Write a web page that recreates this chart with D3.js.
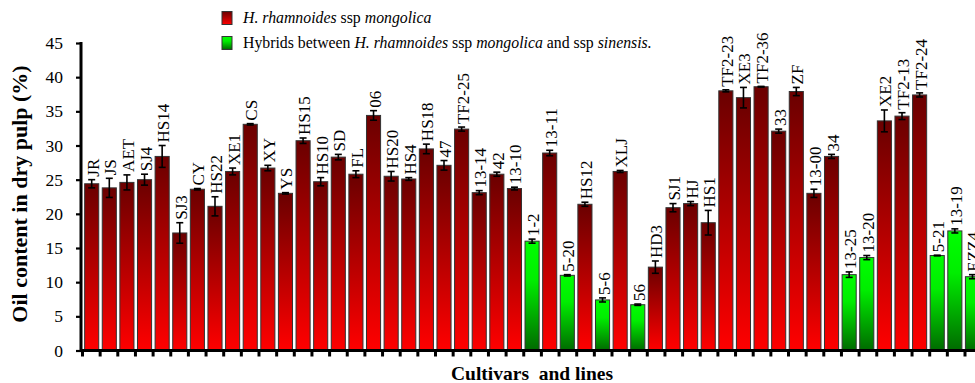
<!DOCTYPE html>
<html><head><meta charset="utf-8">
<script src="https://cdn.jsdelivr.net/npm/d3@7"></script>
<style>
html,body{margin:0;padding:0;background:#fff;}
svg{display:block;font-family:"Liberation Serif","Times New Roman",serif;}
</style></head>
<body>
<svg id="chart" width="975" height="383"></svg>
<script>
const categories = ["JR","JS","AET","SJ4","HS14","SJ3","CY","HS22","XE1","CS","XY","YS","HS15","HS10","SD","FL","06","HS20","HS4","HS18","47","TF2-25","13-14","42","13-10","1-2","13-11","5-20","HS12","5-6","XLJ","56","HD3","SJ1","HJ","HS1","TF2-23","XE3","TF2-36","33","ZF","13-00","34","13-25","13-20","XE2","TF2-13","TF2-24","5-21","13-19","EZZ4"];
const oilValues = [24.4,23.8,24.6,25.0,28.4,17.2,23.6,21.1,26.2,33.1,26.7,23.0,30.7,24.7,28.3,25.8,34.4,25.5,25.1,29.5,27.1,32.4,23.1,25.8,23.7,16.0,28.9,11.0,21.4,7.4,26.2,6.7,12.2,20.9,21.5,18.7,38.0,37.0,38.6,32.1,37.9,23.0,28.4,11.1,13.6,33.6,34.3,37.4,13.9,17.5,10.8];
const oilErrors = [0.6,1.4,1.1,0.8,1.6,1.5,0.1,1.4,0.5,0.1,0.4,0.1,0.4,0.6,0.4,0.5,0.7,0.7,0.2,0.7,0.7,0.3,0.3,0.3,0.2,0.3,0.4,0.1,0.3,0.3,0.15,0.1,0.9,0.6,0.3,1.8,0.15,1.5,0.05,0.3,0.6,0.6,0.3,0.4,0.3,1.6,0.5,0.3,0.05,0.3,0.3];
const groups = ["m","m","m","m","m","m","m","m","m","m","m","m","m","m","m","m","m","m","m","m","m","m","m","m","m","h","m","h","m","h","m","h","m","m","m","m","m","m","m","m","m","m","m","h","h","m","m","m","h","h","h"];
const yTicks = [0,5,10,15,20,25,30,35,40,45];
const legendItems = [
  {key:"m", parts:[["H. rhamnoides",true],[" ssp ",false],["mongolica",true]]},
  {key:"h", parts:[["Hybrids between ",false],["H. rhamnoides",true],[" ssp ",false],["mongolica",true],[" and ssp ",false],["sinensis.",true]]}
];

const data = categories.map((c,i)=>({name:c, v:oilValues[i], e:oilErrors[i], g:groups[i], i}));

const svg = d3.select("#chart");
const defs = svg.append("defs");
const gr = defs.append("linearGradient").attr("id","gradM").attr("x1",0).attr("y1",0).attr("x2",0).attr("y2",1);
gr.append("stop").attr("offset","0%").attr("stop-color","#6a0000");
gr.append("stop").attr("offset","100%").attr("stop-color","#ff0000");
const gg = defs.append("linearGradient").attr("id","gradH").attr("x1",0).attr("y1",0).attr("x2",0).attr("y2",1);
gg.append("stop").attr("offset","0%").attr("stop-color","#00ff00");
gg.append("stop").attr("offset","35%").attr("stop-color","#00ee00");
gg.append("stop").attr("offset","100%").attr("stop-color","#006a00");
const fillOf = g => g==="m" ? "url(#gradM)" : "url(#gradH)";

const step = 17.65, x0 = 82;
const x = d3.scaleBand().domain(categories).range([x0, x0+categories.length*step]).paddingInner(0.2).paddingOuter(0.15);
const xb = d3.scaleLinear().domain([0,categories.length]).range([x0, x0+categories.length*step]);
const y = d3.scaleLinear().domain([0,45]).range([350.5,43]);

// bars
svg.append("g").selectAll("rect").data(data).join("rect")
  .attr("x", d=>x(d.name)).attr("width", x.bandwidth())
  .attr("y", d=>y(d.v)).attr("height", d=>y(0)-y(d.v))
  .attr("fill", d=>fillOf(d.g)).attr("stroke","#333").attr("stroke-width",1);

// error bars
const eg = svg.append("g").attr("stroke","#000").attr("stroke-width",1.6);
data.forEach(d=>{
  const cx = x(d.name)+x.bandwidth()/2;
  eg.append("line").attr("x1",cx).attr("x2",cx).attr("y1",y(d.v+d.e)).attr("y2",y(d.v-d.e));
  eg.append("line").attr("x1",cx-3.5).attr("x2",cx+3.5).attr("y1",y(d.v+d.e)).attr("y2",y(d.v+d.e));
  eg.append("line").attr("x1",cx-3.5).attr("x2",cx+3.5).attr("y1",y(d.v-d.e)).attr("y2",y(d.v-d.e));
});

// bar labels
svg.append("g").selectAll("text").data(data).join("text")
  .attr("transform", d=>`translate(${x(d.name)+x.bandwidth()/2+7},${y(d.v+d.e)-3}) rotate(-90)`)
  .attr("font-size",17).attr("fill","#000").attr("text-anchor","start")
  .text(d=>d.name);

// y axis
const yAxis = svg.append("g").attr("transform","translate(81,0)")
  .call(d3.axisLeft(y).tickValues(yTicks).tickSize(5).tickPadding(13).tickFormat(d3.format("d")));
yAxis.select(".domain").attr("stroke","#000").attr("stroke-width",3).attr("d",`M0,${y(45)-1}V${y(0)}`);
yAxis.selectAll(".tick line").attr("stroke","#000").attr("stroke-width",2.2);
yAxis.selectAll(".tick text").attr("font-family","Liberation Serif").attr("font-size",17.5).attr("fill","#000");

// x axis
const xAxis = svg.append("g").attr("transform",`translate(0,${y(0)})`)
  .call(d3.axisBottom(xb).tickValues(d3.range(0,categories.length+1)).tickSize(6).tickFormat(""));
xAxis.select(".domain").attr("stroke","#000").attr("stroke-width",3).attr("d",`M80,0H975`);
xAxis.selectAll(".tick line").attr("stroke","#000").attr("stroke-width",3);

// axis titles
svg.append("text").attr("transform","translate(27,194) rotate(-90)")
  .attr("text-anchor","middle").attr("font-weight","bold").attr("font-size",22).text("Oil content in dry pulp (%)");
svg.append("text").attr("x",532).attr("y",380)
  .attr("text-anchor","middle").attr("font-weight","bold").attr("font-size",19.5).attr("xml:space","preserve").style("white-space","pre").text("Cultivars  and lines");

// legend
const lg = svg.append("g");
legendItems.forEach((it,k)=>{
  const yy = 18 + k*25;
  lg.append("rect").attr("x",222).attr("y",yy-6.5).attr("width",10).attr("height",13)
    .attr("fill",fillOf(it.key)).attr("stroke","#333").attr("stroke-width",1);
  const t = lg.append("text").attr("x",243).attr("y",yy+5).attr("font-size",15.8).attr("fill","#000").style("white-space","pre");
  it.parts.forEach(p=>t.append("tspan").attr("font-style",p[1]?"italic":"normal").text(p[0]));
});
</script>
</body></html>
